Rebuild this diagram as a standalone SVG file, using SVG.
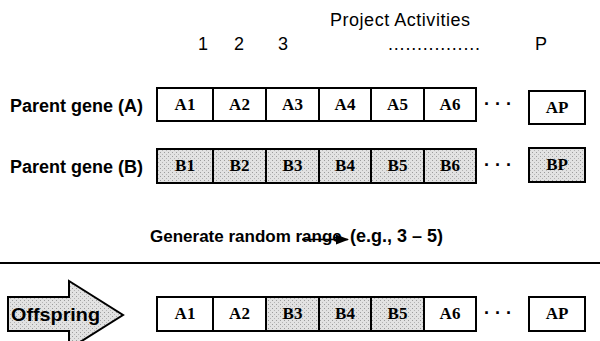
<svg xmlns="http://www.w3.org/2000/svg" width="600" height="341" viewBox="0 0 600 341">
  <defs>
    <!-- stippled gray used for the B genes and the offspring arrow -->
    <pattern id="stipple" width="4" height="4" patternUnits="userSpaceOnUse">
      <rect width="4" height="4" fill="#e2e2e2"/>
      <rect x="0" y="0" width="1" height="1" fill="#9c9c9c"/>
      <rect x="2" y="2" width="1" height="1" fill="#b4b4b4"/>
    </pattern>
    <marker id="arrowhead" markerWidth="13" markerHeight="10" refX="12" refY="5" orient="auto" markerUnits="userSpaceOnUse">
      <path d="M0,0 L13,5 L0,10 Z" fill="#000"/>
    </marker>
  </defs>
  <style>
    .hdr { font-family: "Liberation Sans", Arial, sans-serif; font-size: 18px; fill: #000; }
    .lbl { font-family: "Liberation Sans", Arial, sans-serif; font-size: 18px; font-weight: bold; fill: #000; }
    .gene rect { stroke: #000; stroke-width: 2; }
    .gene text { font-family: "Liberation Serif", "Times New Roman", serif; font-size: 17px; font-weight: bold; text-anchor: middle; fill: #000; }
    .a rect { fill: #fff; }
    .b rect { fill: url(#stipple); }
    .dots { font-family: "Liberation Sans", Arial, sans-serif; font-size: 18px; font-weight: bold; fill: #000; }
  </style>

  <rect width="600" height="341" fill="#fff"/>

  <!-- column header -->
  <g id="header">
    <text class="hdr" x="330" y="26" textLength="140" lengthAdjust="spacing">Project  Activities</text>
    <text class="hdr" x="203" y="50" text-anchor="middle">1</text>
    <text class="hdr" x="239" y="50" text-anchor="middle">2</text>
    <text class="hdr" x="283" y="50" text-anchor="middle">3</text>
    <text class="hdr" x="388" y="50" textLength="92" lengthAdjust="spacing">................</text>
    <text class="hdr" x="541" y="50" text-anchor="middle">P</text>
  </g>

  <!-- parent A -->
  <g id="parent-a">
    <text class="lbl" x="10" y="112">Parent gene (A)</text>
    <g class="gene a">
      <rect x="157" y="88" width="56" height="33"/><text x="185" y="110">A1</text>
      <rect x="213" y="88" width="53" height="33"/><text x="239.5" y="110">A2</text>
      <rect x="266" y="88" width="53" height="33"/><text x="292.5" y="110">A3</text>
      <rect x="319" y="88" width="52" height="33"/><text x="345" y="110">A4</text>
      <rect x="371" y="88" width="53" height="33"/><text x="397.5" y="110">A5</text>
      <rect x="424" y="88" width="52" height="33"/><text x="450" y="110">A6</text>
      <rect x="529" y="91" width="56" height="33"/><text x="557" y="113">AP</text>
    </g>
    <text class="dots" x="484" y="110">·  ·  ·</text>
  </g>

  <!-- parent B -->
  <g id="parent-b">
    <text class="lbl" x="10" y="173">Parent gene (B)</text>
    <g class="gene b">
      <rect x="157" y="149" width="56" height="34"/><text x="185" y="171">B1</text>
      <rect x="213" y="149" width="53" height="34"/><text x="239.5" y="171">B2</text>
      <rect x="266" y="149" width="53" height="34"/><text x="292.5" y="171">B3</text>
      <rect x="319" y="149" width="52" height="34"/><text x="345" y="171">B4</text>
      <rect x="371" y="149" width="53" height="34"/><text x="397.5" y="171">B5</text>
      <rect x="424" y="149" width="52" height="34"/><text x="450" y="171">B6</text>
      <rect x="529" y="148" width="56" height="34"/><text x="557" y="170">BP</text>
    </g>
    <text class="dots" x="484" y="171">·  ·  ·</text>
  </g>

  <!-- crossover range -->
  <g id="range">
    <text class="lbl" x="150" y="242" font-size="17" style="font-size:17px">Generate random range</text>
    <text class="lbl" x="350" y="242">(e.g., 3 – 5)</text>
  </g>

  <g id="connectors">
    <line x1="302" y1="239.5" x2="348" y2="239.5" stroke="#000" stroke-width="1.5" marker-end="url(#arrowhead)"/>
    <line x1="0" y1="263" x2="600" y2="263" stroke="#000" stroke-width="2"/>
  </g>

  <!-- offspring arrow -->
  <g id="offspring-arrow">
    <polygon points="8,297 69,297 69,281 123,315 69,349 69,331 8,331" fill="url(#stipple)" stroke="#000" stroke-width="2"/>
    <text class="lbl" x="11" y="321" textLength="89" lengthAdjust="spacingAndGlyphs">Offspring</text>
  </g>

  <!-- offspring gene -->
  <g id="offspring">
    <g class="gene">
      <g class="a"><rect x="157" y="297" width="56" height="34"/><text x="185" y="319">A1</text></g>
      <g class="a"><rect x="213" y="297" width="53" height="34"/><text x="239.5" y="319">A2</text></g>
      <g class="b"><rect x="266" y="297" width="53" height="34"/><text x="292.5" y="319">B3</text></g>
      <g class="b"><rect x="319" y="297" width="52" height="34"/><text x="345" y="319">B4</text></g>
      <g class="b"><rect x="371" y="297" width="53" height="34"/><text x="397.5" y="319">B5</text></g>
      <g class="a"><rect x="424" y="297" width="52" height="34"/><text x="450" y="319">A6</text></g>
      <g class="a"><rect x="529" y="297" width="56" height="34"/><text x="557" y="319">AP</text></g>
    </g>
    <text class="dots" x="484" y="319">·  ·  ·</text>
  </g>
</svg>
